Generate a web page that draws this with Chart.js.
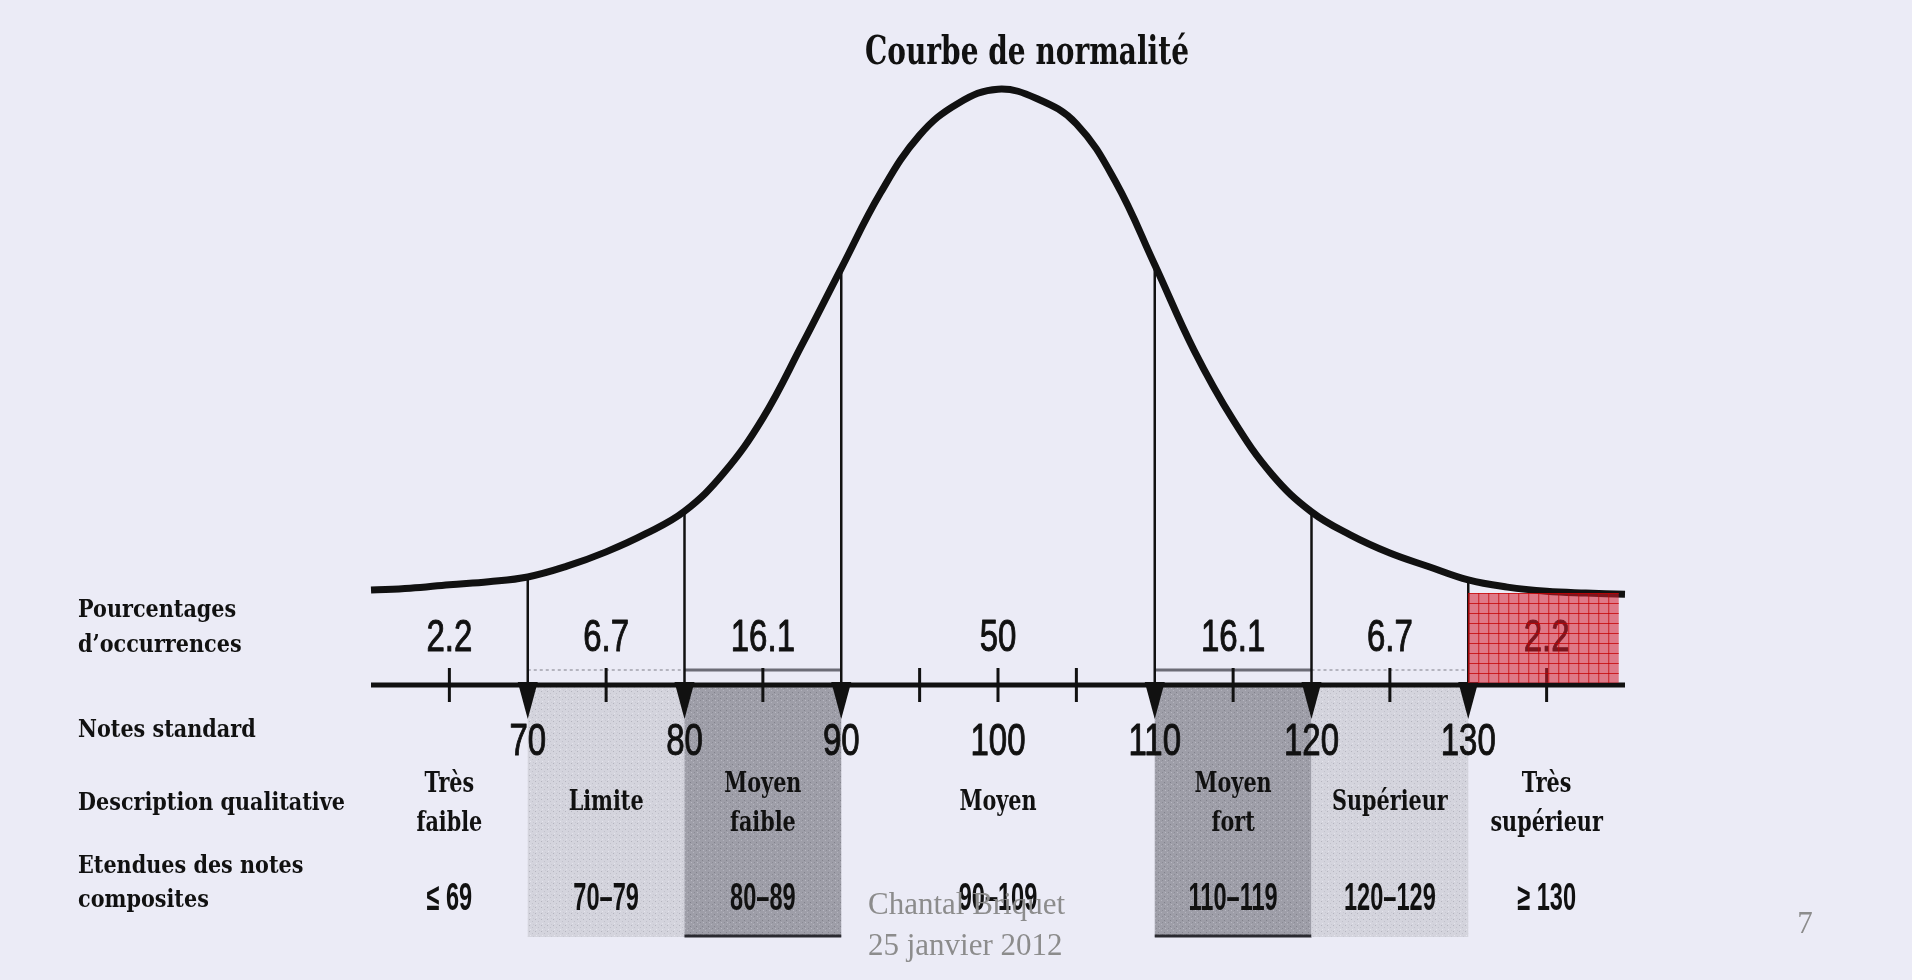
<!DOCTYPE html>
<html lang="fr">
<head>
<meta charset="utf-8">
<title>Courbe de normalité</title>
<script src="https://cdn.jsdelivr.net/npm/chart.js@4.4.1/dist/chart.umd.min.js"></script>
<style>
    html, body { margin: 0; padding: 0; background: #ebebf6; overflow: hidden; }
    #wrap { width: 1912px; height: 980px; }
</style>
</head>
<body>
<div id="wrap"><canvas id="chart" width="1912" height="980"></canvas></div>
<script>
// =============================================
// Courbe de normalité — normal curve of standard scores
// =============================================

// --- Data ---
const CURVE_X = [60, 62.5, 65, 67.5, 70, 72.5, 75, 77.5, 80, 82.5, 85, 87.5, 90, 92.5, 95, 97.5,
    100, 102.5, 105, 107.5, 110, 112.5, 115, 117.5, 120, 122.5, 125, 127.5, 130, 132.5, 135, 137.5, 140];
const CURVE_Y = [15.9, 16.2, 16.8, 17.3, 18.1, 19.9, 22.3, 25.3, 29.1, 35.5, 44.7, 57.0, 69.8, 82.4, 92.1, 97.5,
    99.8, 98.2, 94.0, 84.3, 70.4, 56.1, 44.4, 35.2, 29.0, 25.1, 22.1, 19.8, 17.6, 16.4, 15.7, 15.4, 15.2];

const BAND_EDGES = [70, 80, 90, 110, 120, 130];
const BAND_MIDS = [65, 75, 85, 100, 115, 125, 135];
const MINOR_TICKS = [65, 75, 85, 95, 100, 105, 115, 125, 135];

const PERCENTAGES = ["2.2", "6.7", "16.1", "50", "16.1", "6.7", "2.2"];
const STANDARD_SCORES = ["70", "80", "90", "100", "110", "120", "130"];
const STANDARD_SCORE_X = [70, 80, 90, 100, 110, 120, 130];
const DESCRIPTIONS = [["Très", "faible"], ["Limite"], ["Moyen", "faible"], ["Moyen"], ["Moyen", "fort"], ["Supérieur"], ["Très", "supérieur"]];
const RANGES = ["≤ 69", "70–79", "80–89", "90–109", "110–119", "120–129", "≥ 130"];

const SHADED_BANDS = [[70, 80], [80, 90], [110, 120], [120, 130]];
const HIGHLIGHT_BAND = [130, 139.6];

const ROW_LABELS = [["Pourcentages", "d’occurrences"], ["Notes standard"], ["Description qualitative"], ["Etendues des notes", "composites"]];
const TITLE = "Courbe de normalité";
const FOOTER = ["Chantal Briquet", "25 janvier 2012"];
const PAGE_NUMBER = "7";

// --- Styles ---
const BG = "#ebebf6";
const INK = "#111";
const SERIF_BOLD = "'DejaVu Serif', serif";
const SANS = "'Liberation Sans', Arial, sans-serif";
const SHADE_STYLE = ["light", "dark", "dark", "light"];

function _stipple(base, dots) {
    const c = document.createElement("canvas");
    c.width = 6; c.height = 6;
    const g = c.getContext("2d");
    g.fillStyle = base;
    g.fillRect(0, 0, 6, 6);
    dots.forEach(([x, y, col]) => { g.fillStyle = col; g.fillRect(x, y, 1, 1); });
    return c;
}

function _text(ctx, str, x, y, font, color, sx, align, weight) {
    ctx.save();
    ctx.font = font;
    ctx.fillStyle = color;
    ctx.textAlign = align || "center";
    ctx.textBaseline = "alphabetic";
    ctx.translate(x, y);
    ctx.scale(sx, 1);
    ctx.fillText(str, 0, 0);
    if (weight) {
        ctx.strokeStyle = color;
        ctx.lineWidth = weight;
        ctx.lineJoin = "round";
        ctx.strokeText(str, 0, 0);
    }
    ctx.restore();
}

const edgeValue = e => CURVE_Y[CURVE_X.indexOf(e)];

const overlay = {
    id: "overlay",
    beforeDraw(chart) {
        const { ctx, width, height } = chart;
        ctx.save();
        ctx.fillStyle = BG;
        ctx.fillRect(0, 0, width, height);
        ctx.restore();
    },
    beforeDatasetsDraw(chart) {
        const { ctx } = chart;
        const xs = chart.scales.x, ys = chart.scales.y;
        const axisY = ys.getPixelForValue(0);
        const light = ctx.createPattern(_stipple("#d4d4dd", [[1, 1, "#b4b4be"], [4, 3, "#c0c0ca"], [2, 5, "#e4e4ec"], [5, 0, "#c8c8d2"]]), "repeat");
        const dark = ctx.createPattern(_stipple("#9e9ea8", [[0, 2, "#82828c"], [3, 0, "#b4b4be"], [4, 4, "#8a8a94"], [1, 4, "#b8b8c2"]]), "repeat");
        ctx.save();
        SHADED_BANDS.forEach(([a, b], i) => {
            const x0 = xs.getPixelForValue(a), x1 = xs.getPixelForValue(b);
            const isDark = SHADE_STYLE[i] === "dark";
            ctx.fillStyle = isDark ? dark : light;
            ctx.fillRect(x0, axisY, x1 - x0, 252);
            ctx.strokeStyle = isDark ? "#6c6c76" : "#b4b4be";
            ctx.lineWidth = isDark ? 3 : 2;
            ctx.setLineDash(isDark ? [] : [3, 3]);
            ctx.beginPath(); ctx.moveTo(x0, axisY - 15); ctx.lineTo(x1, axisY - 15); ctx.stroke();
            if (isDark) {
                ctx.strokeStyle = "#2a2a30";
                ctx.beginPath(); ctx.moveTo(x0, axisY + 251); ctx.lineTo(x1, axisY + 251); ctx.stroke();
            }
        });
        ctx.restore();
    },
    afterDatasetsDraw(chart) {
        const { ctx } = chart;
        const xs = chart.scales.x, ys = chart.scales.y;
        const axisY = ys.getPixelForValue(0);

        ctx.save();
        // axis line
        ctx.strokeStyle = INK;
        ctx.lineWidth = 5;
        ctx.beginPath(); ctx.moveTo(xs.left, axisY); ctx.lineTo(xs.right, axisY); ctx.stroke();
        // minor ticks
        ctx.lineWidth = 3;
        MINOR_TICKS.forEach(t => {
            const x = xs.getPixelForValue(t);
            ctx.beginPath(); ctx.moveTo(x, axisY - 17); ctx.lineTo(x, axisY + 17); ctx.stroke();
        });
        // arrow heads at band edges
        ctx.fillStyle = INK;
        BAND_EDGES.forEach(e => {
            const x = xs.getPixelForValue(e);
            ctx.beginPath();
            ctx.moveTo(x - 10, axisY - 3); ctx.lineTo(x + 10, axisY - 3); ctx.lineTo(x, axisY + 34);
            ctx.closePath(); ctx.fill();
        });
        ctx.restore();

        // title
        _text(ctx, TITLE, 1027, 64, `bold 40px ${SERIF_BOLD}`, INK, 0.7);

        // row labels
        const rowBase = [[617, 652], [737], [810], [873, 907]];
        ROW_LABELS.forEach((lines, i) => lines.forEach((s, j) =>
            _text(ctx, s, 78, rowBase[i][j], `bold 25px ${SERIF_BOLD}`, INK, 0.83, "left")));

        // percentages
        PERCENTAGES.forEach((s, i) =>
            _text(ctx, s, xs.getPixelForValue(BAND_MIDS[i]), axisY - 34, `44px ${SANS}`, INK, 0.75, "center", 1));

        // standard scores
        STANDARD_SCORES.forEach((s, i) =>
            _text(ctx, s, xs.getPixelForValue(STANDARD_SCORE_X[i]), axisY + 70, `44px ${SANS}`, INK, 0.75, "center", 1));

        // qualitative descriptions
        DESCRIPTIONS.forEach((lines, i) => {
            const x = xs.getPixelForValue(BAND_MIDS[i]);
            const bases = lines.length === 2 ? [axisY + 107, axisY + 146] : [axisY + 125];
            lines.forEach((s, j) => _text(ctx, s, x, bases[j], `bold 28px ${SERIF_BOLD}`, INK, 0.74));
        });

        // composite ranges
        RANGES.forEach((s, i) =>
            _text(ctx, s, xs.getPixelForValue(BAND_MIDS[i]), axisY + 225, `bold 38px ${SANS}`, INK, 0.62));

        // highlighted right tail
        const hx0 = xs.getPixelForValue(HIGHLIGHT_BAND[0]), hx1 = xs.getPixelForValue(HIGHLIGHT_BAND[1]);
        const hy0 = axisY - 92, hy1 = axisY - 2;
        ctx.save();
        ctx.fillStyle = "rgba(214, 28, 44, 0.55)";
        ctx.fillRect(hx0, hy0, hx1 - hx0, hy1 - hy0);
        ctx.strokeStyle = "rgba(196, 0, 0, 0.75)";
        ctx.lineWidth = 1;
        for (let x = hx0 + 0.5; x <= hx1; x += 10) { ctx.beginPath(); ctx.moveTo(x, hy0); ctx.lineTo(x, hy1); ctx.stroke(); }
        for (let y = hy0 + 0.5; y <= hy1; y += 10) { ctx.beginPath(); ctx.moveTo(hx0, y); ctx.lineTo(hx1, y); ctx.stroke(); }
        ctx.restore();

        // slide footer
        _text(ctx, FOOTER[0], 868, 914, `31px 'Liberation Serif', serif`, "#8c8c8c", 1, "left");
        _text(ctx, FOOTER[1], 868, 955, `31px 'Liberation Serif', serif`, "#8c8c8c", 1, "left");
        _text(ctx, PAGE_NUMBER, 1805, 933, `31px 'Liberation Serif', serif`, "#8c8c8c", 1);
    },
};

const edgeDatasets = BAND_EDGES.map(e => ({
    data: [{ x: e, y: 0 }, { x: e, y: edgeValue(e) }],
    borderColor: INK,
    borderWidth: 2.5,
    pointRadius: 0,
    fill: false,
}));

new Chart(document.getElementById("chart"), {
    type: "line",
    data: {
        datasets: [
            {
                label: "Courbe",
                data: CURVE_X.map((x, i) => ({ x, y: CURVE_Y[i] })),
                borderColor: INK,
                borderWidth: 7,
                pointRadius: 0,
                tension: 0.4,
                fill: false,
                clip: false,
            },
            ...edgeDatasets,
        ],
    },
    options: {
        responsive: false,
        animation: false,
        layout: { padding: { left: 371, right: 287, top: 88, bottom: 295 } },
        plugins: { legend: { display: false }, tooltip: { enabled: false } },
        scales: {
            x: { type: "linear", min: 60, max: 140, display: false },
            y: { min: 0, max: 100, display: false },
        },
    },
    plugins: [overlay],
});
</script>
</body>
</html>
